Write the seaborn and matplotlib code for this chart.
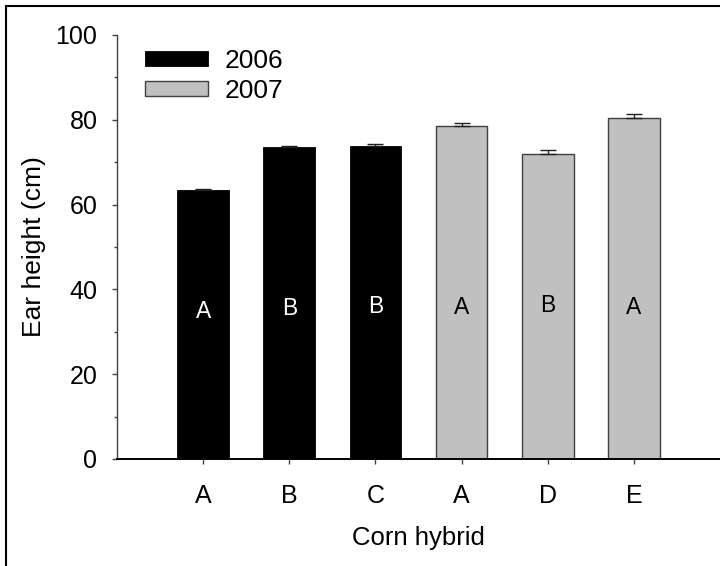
import numpy as np
import pandas as pd
import matplotlib
matplotlib.use("Agg")
import matplotlib.pyplot as plt
import seaborn as sns
from matplotlib.patches import Patch, Rectangle
from matplotlib.ticker import MultipleLocator

# ---- data ----
hybrids = ["A", "B", "C", "A", "D", "E"]
years = ["2006", "2006", "2006", "2007", "2007", "2007"]
ear_height = [63.4, 73.6, 73.9, 78.5, 72.0, 80.5]
std_err = [0.3, 0.2, 0.35, 0.85, 0.8, 0.9]
group_letters = ["A", "B", "B", "A", "B", "A"]
letter_y = [34.7, 35.6, 36.0, 35.8, 36.3, 35.8]

sns.set_style("ticks")
plt.rcParams["font.family"] = ["Liberation Sans", "DejaVu Sans"]
plt.rcParams["text.color"] = "black"
plt.rcParams["axes.labelcolor"] = "black"

bar_ids = [f"{h}-{y}" for h, y in zip(hybrids, years)]
df = pd.DataFrame({"id": bar_ids, "height": ear_height, "year": years})

fig = plt.figure(figsize=(7.2, 5.66), dpi=100)
ax = fig.add_axes([117/720, 1-459/566, 1-117/720, (459-35)/566])

palette = {"2006": "#000000", "2007": "#c0c0c0"}
sns.barplot(data=df, x="id", y="height", hue="year", palette=palette,
            order=bar_ids, dodge=False, width=0.6, errorbar=None,
            saturation=1, legend=False, ax=ax)

for p, yr in zip(ax.patches, years):
    if yr == "2007":
        p.set_edgecolor("#404040")
        p.set_linewidth(1.0)
    else:
        p.set_edgecolor("#000000")
        p.set_linewidth(0.6)

x = np.arange(len(bar_ids))
ax.errorbar(x, ear_height, yerr=[np.zeros(len(std_err)), std_err], fmt="none",
            ecolor="#202020", elinewidth=1.0, capsize=6, capthick=1.0, zorder=1)

for xi, lt, ly, yr in zip(x, group_letters, letter_y, years):
    ax.text(xi, ly, lt, ha="center", va="center", fontsize=16.5,
            color="white" if yr == "2006" else "black")

ax.set_xlim(-1, 6)
ax.set_ylim(0, 100)
ax.yaxis.set_major_locator(MultipleLocator(20))
ax.yaxis.set_minor_locator(MultipleLocator(10))
ax.set_xticks(x)
ax.set_xticklabels(hybrids)
ax.tick_params(axis="y", which="major", length=3.6, width=1, pad=10.5,
               labelsize=18, color="#404040", labelcolor="black")
ax.tick_params(axis="y", which="minor", length=2.5, width=1, color="#404040")
ax.tick_params(axis="x", length=3.8, width=1, pad=14, labelsize=18,
               color="#404040", labelcolor="black")

for s in ["top", "right"]:
    ax.spines[s].set_visible(False)
ax.spines["left"].set_color("#404040")
ax.spines["left"].set_linewidth(1.0)
ax.spines["bottom"].set_color("#000000")
ax.spines["bottom"].set_linewidth(1.4)

ax.set_xlabel("Corn hybrid", fontsize=18.5, labelpad=13)
ax.set_ylabel("Ear height (cm)", fontsize=19, labelpad=7)

handles = [Patch(facecolor=palette["2006"], edgecolor="#000000", lw=0.6, label="2006"),
           Patch(facecolor=palette["2007"], edgecolor="#404040", lw=1.0, label="2007")]
ax.legend(handles=handles, loc="upper left",
          bbox_to_anchor=(145/720, 1-49/566), bbox_transform=fig.transFigure,
          frameon=False, fontsize=19, handlelength=2.4, handleheight=0.5,
          handletextpad=0.6, labelspacing=0.22, borderpad=0, borderaxespad=0,
          labelcolor="black")

fig.add_artist(Rectangle((6/720, -0.1), 1.2, 1.1 - 6/566, transform=fig.transFigure,
                         fill=False, edgecolor="black", lw=1.5, clip_on=False))

fig.savefig("out.png", dpi=100)
